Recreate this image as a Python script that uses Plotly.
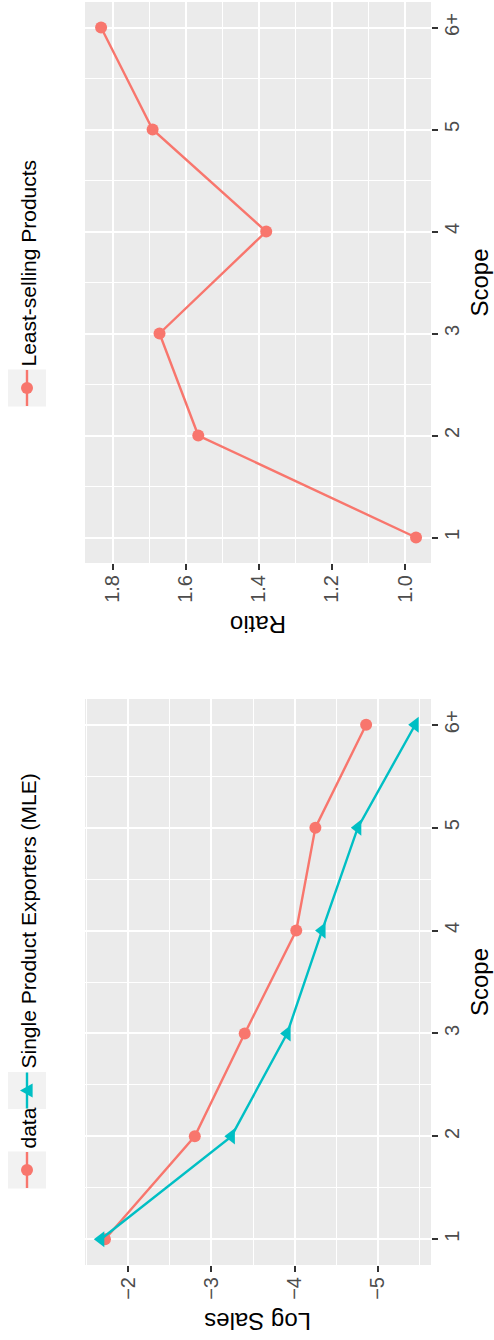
import plotly.graph_objects as go

W, H = 494, 1340

# ---- data ----
scope = ["1", "2", "3", "4", "5", "6+"]
ratio_least = [0.97, 1.566, 1.672, 1.38, 1.691, 1.832]
log_sales_data = [-1.72, -2.80, -3.40, -4.02, -4.25, -4.86]
log_sales_mle = [-1.67, -3.24, -3.91, -4.33, -4.76, -5.45]

legend_top = ["Least-selling Products"]
legend_bottom = ["data", "Single Product Exporters (MLE)"]

RED = "#F8766D"
TEAL = "#00BFC4"
FONT = "Liberation Sans, Arial, Helvetica, sans-serif"

pos = list(range(1, len(scope) + 1))


def px(x):
    return x / W


def py(y):
    return 1 - y / H


fig = go.Figure()

fig.add_trace(go.Scatter(
    x=ratio_least, y=pos, xaxis="x", yaxis="y", mode="lines+markers",
    line=dict(color=RED, width=2.4),
    marker=dict(symbol="circle", size=12, color=RED),
    name=legend_top[0], showlegend=False))

fig.add_trace(go.Scatter(
    x=log_sales_data, y=pos, xaxis="x2", yaxis="y2", mode="lines+markers",
    line=dict(color=RED, width=2.4),
    marker=dict(symbol="circle", size=12, color=RED),
    name=legend_bottom[0], showlegend=False))

fig.add_trace(go.Scatter(
    x=log_sales_mle, y=pos, xaxis="x2", yaxis="y2", mode="lines+markers",
    line=dict(color=TEAL, width=2.4),
    marker=dict(symbol="triangle-left", size=14, color=TEAL),
    name=legend_bottom[1], showlegend=False))

tickfont = dict(family=FONT, size=20, color="#4D4D4D")
common = dict(
    showgrid=True, gridcolor="white", gridwidth=2.4, zeroline=False,
    showline=False, ticks="outside", ticklen=6, tickwidth=2.4,
    tickcolor="#333333", tickangle=-90, tickfont=tickfont,
    automargin=False, ticklabelstandoff=-3,
)
minor_grid = dict(showgrid=True, gridcolor="white", gridwidth=1.2, ticks="")

xdom = [px(85), px(431)]

fig.update_layout(
    width=W, height=H, autosize=False,
    margin=dict(l=0, r=0, t=0, b=0, pad=0),
    paper_bgcolor="white", plot_bgcolor="#EBEBEB",
    showlegend=False,
    xaxis=dict(domain=xdom, anchor="y", range=[1.876, 0.929],
               tick0=1.0, dtick=0.2, tickformat=".1f",
               minor=dict(tick0=1.0, dtick=0.1, **minor_grid), **common),
    yaxis=dict(domain=[py(563), py(2)], anchor="x", side="right",
               range=[0.75, 6.25], tickmode="array", tickvals=pos,
               ticktext=scope,
               minor=dict(tickmode="array",
                          tickvals=[p + 0.5 for p in pos[:-1]], **minor_grid),
               **common),
    xaxis2=dict(domain=xdom, anchor="y2", range=[-1.48, -5.64],
                tick0=0, dtick=1,
                minor=dict(tick0=0, dtick=0.5, **minor_grid), **common),
    yaxis2=dict(domain=[py(1265), py(699)], anchor="x2", side="right",
                range=[0.75, 6.25], tickmode="array", tickvals=pos,
                ticktext=scope,
                minor=dict(tickmode="array",
                           tickvals=[p + 0.5 for p in pos[:-1]], **minor_grid),
                **common),
)

ann = []
titlefont = dict(family=FONT, size=24, color="black")
# axis titles
ann.append(dict(text="Ratio", x=px(258), y=py(624), xref="paper", yref="paper",
                showarrow=False, textangle=180, font=titlefont, borderpad=0,
                xanchor="center", yanchor="middle"))
ann.append(dict(text="Log Sales", x=px(258), y=py(1322), xref="paper", yref="paper",
                showarrow=False, textangle=180, font=titlefont, borderpad=0,
                xanchor="center", yanchor="middle"))
ann.append(dict(text="Scope", x=px(479), y=py(282.5), xref="paper", yref="paper",
                showarrow=False, textangle=-90, font=titlefont, borderpad=0,
                xanchor="center", yanchor="middle"))
ann.append(dict(text="Scope", x=px(479), y=py(982), xref="paper", yref="paper",
                showarrow=False, textangle=-90, font=titlefont, borderpad=0,
                xanchor="center", yanchor="middle"))

legfont = dict(family=FONT, size=21, color="black")
shapes = []


def legend_key(cy, color, symbol):
    cx = 27
    shapes.append(dict(type="rect", xref="paper", yref="paper",
                       x0=px(8), x1=px(46), y0=py(cy + 18.5), y1=py(cy - 18.5),
                       fillcolor="#F2F2F2", line=dict(width=0), layer="above"))
    shapes.append(dict(type="line", xref="paper", yref="paper",
                       x0=px(cx), x1=px(cx), y0=py(cy + 18), y1=py(cy - 18),
                       line=dict(color=color, width=2.4), layer="above"))
    if symbol == "circle":
        r = 6
        shapes.append(dict(type="circle", xref="paper", yref="paper",
                           x0=px(cx - r), x1=px(cx + r), y0=py(cy + r), y1=py(cy - r),
                           fillcolor=color, line=dict(width=0), layer="above"))
    else:
        s = 7
        path = (f"M {px(cx - s)} {py(cy)} L {px(cx + s * 0.8)} {py(cy - s)} "
                f"L {px(cx + s * 0.8)} {py(cy + s)} Z")
        shapes.append(dict(type="path", xref="paper", yref="paper", path=path,
                           fillcolor=color, line=dict(width=0), layer="above"))


def legend_text(text, ybottom):
    ann.append(dict(text=text, x=px(28), y=py(ybottom), xref="paper", yref="paper",
                    showarrow=False, textangle=-90, font=legfont,
                    xanchor="center", yanchor="bottom", borderpad=0))


legend_key(388, RED, "circle")
legend_text(legend_top[0], 368)

legend_key(1170, RED, "circle")
legend_text(legend_bottom[0], 1150)
legend_key(1090.5, TEAL, "triangle")
legend_text(legend_bottom[1], 1070)

fig.update_layout(annotations=ann, shapes=shapes)

fig.write_html(
    "out.html",
    config={"displayModeBar": False},
    post_script="document.body.style.margin='0';document.body.style.overflow='hidden';",
)
